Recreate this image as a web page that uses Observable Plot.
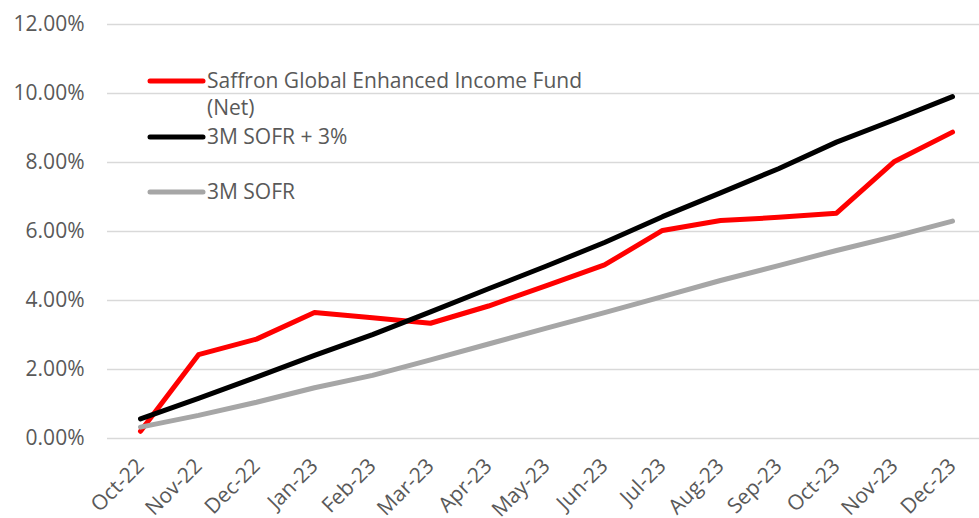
<!DOCTYPE html>
<html>
<head>
<meta charset="utf-8">
<script src="https://cdn.jsdelivr.net/npm/d3@7"></script>
<script src="https://cdn.jsdelivr.net/npm/@observablehq/plot@0.6"></script>
<style>
  html, body { margin: 0; padding: 0; background: #fff; }
  #chart { position: relative; width: 979px; height: 518px; }
</style>
</head>
<body>
<div id="chart"></div>
<script>
const months = ["Oct-22","Nov-22","Dec-22","Jan-23","Feb-23","Mar-23","Apr-23","May-23","Jun-23","Jul-23","Aug-23","Sep-23","Oct-23","Nov-23","Dec-23"];
const fundNet = [0.21, 2.43, 2.88, 3.65, 3.50, 3.34, 3.84, 4.43, 5.03, 6.03, 6.32, 6.41, 6.53, 8.03, 8.88];
const sofrPlus3 = [0.57, 1.16, 1.78, 2.41, 3.01, 3.67, 4.34, 5.00, 5.68, 6.43, 7.12, 7.82, 8.59, 9.24, 9.91];
const sofr = [0.33, 0.67, 1.05, 1.47, 1.83, 2.28, 2.74, 3.20, 3.65, 4.11, 4.58, 5.01, 5.45, 5.86, 6.30];
const yTicks = [0, 2, 4, 6, 8, 10, 12];

const seriesNames = ["Saffron Global Enhanced Income Fund (Net)", "3M SOFR + 3%", "3M SOFR"];
const seriesColors = ["#ff0000", "#000000", "#a6a6a6"];
const seriesValues = [fundNet, sofrPlus3, sofr];

const data = [];
seriesNames.forEach((name, s) => {
  months.forEach((m, i) => data.push({series: name, month: m, value: seriesValues[s][i]}));
});

const font = "'Open Sans', sans-serif";
const fs = 21;
const plot = Plot.plot({
  width: 979,
  height: 518,
  marginLeft: 107,
  marginRight: 0,
  marginTop: 24,
  marginBottom: 80,
  style: {fontFamily: font, fontSize: fs + "px", color: "#595959", background: "#fff", overflow: "visible"},
  x: {type: "point", domain: months, range: [136, 955], padding: 0, label: null},
  y: {domain: [0, 12], label: null},
  color: {domain: seriesNames, range: seriesColors},
  marks: [
    Plot.ruleY(yTicks, {stroke: "#d9d9d9", strokeWidth: 1.5}),
    Plot.axisY(yTicks, {tickSize: 0, tickPadding: 23, tickFormat: d => d.toFixed(2) + "%", fill: "#595959", fontSize: fs, label: null}),
    Plot.axisX({tickSize: 0, tickPadding: 24, tickRotate: -45, fill: "#595959", fontSize: fs, label: null}),
    Plot.line(data, {x: "month", y: "value", z: "series", stroke: d => d.series, strokeWidth: 5, strokeLinecap: "round", strokeLinejoin: "round"})
  ]
});
document.getElementById("chart").appendChild(plot);

// Legend drawn inside the SVG
const svg = d3.select(plot);
const leg = svg.append("g").attr("font-family", font).attr("font-size", fs).attr("fill", "#595959").attr("text-anchor", "start");
const legRows = [
  {lines: ["Saffron Global Enhanced Income Fund", "(Net)"], y: 81},
  {lines: ["3M SOFR + 3%"], y: 137},
  {lines: ["3M SOFR"], y: 192}
];
legRows.forEach((r, i) => {
  leg.append("line").attr("x1", 150).attr("x2", 203).attr("y1", r.y).attr("y2", r.y)
    .attr("stroke", seriesColors[i]).attr("stroke-width", 5).attr("stroke-linecap", "round");
  r.lines.forEach((t, j) => {
    leg.append("text").attr("x", 207).attr("y", r.y + 7 + j * 27).attr("text-anchor", "start").text(t);
  });
});
</script>
</body>
</html>
